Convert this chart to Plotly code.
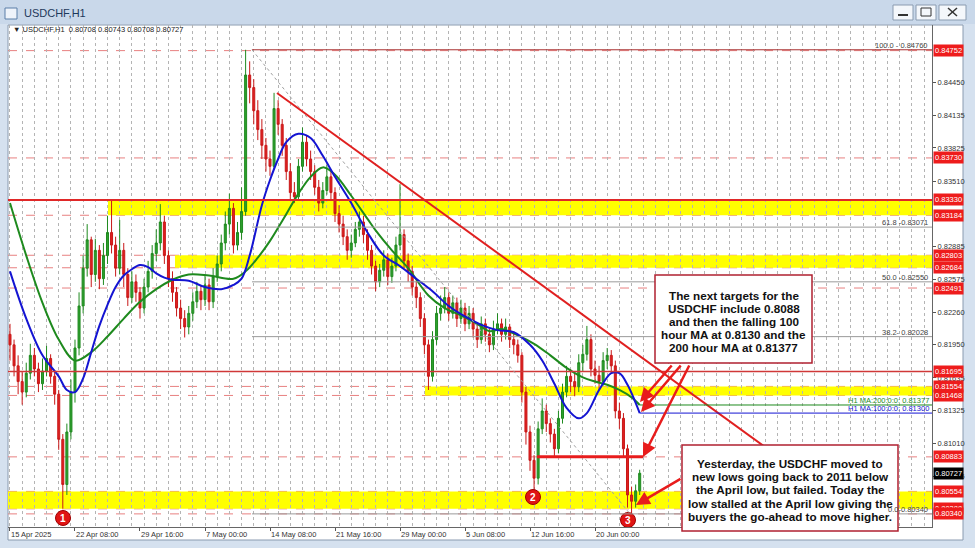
import plotly.graph_objects as go

# ---------------- data (8-hour aggregated bars) ----------------
first_open = 0.8205
close = [0.8195,0.8175,0.8160,0.8150,0.8168,0.8185,0.8172,0.8158,0.8170,0.8182,
         0.8165,0.8148,0.8105,0.8062,0.8112,0.8150,0.8192,0.8232,0.8268,0.8295,
         0.8262,0.8285,0.8258,0.8280,0.8302,0.8290,0.8268,0.8285,0.8262,0.8240,
         0.8255,0.8245,0.8230,0.8250,0.8265,0.8282,0.8292,0.8312,0.8280,0.8258,
         0.8245,0.8230,0.8220,0.8212,0.8225,0.8236,0.8246,0.8238,0.8252,0.8236,
         0.8260,0.8272,0.8292,0.8310,0.8325,0.8290,0.8302,0.8322,0.8452,0.8440,
         0.8418,0.8400,0.8385,0.8372,0.8365,0.8420,0.8405,0.8385,0.8360,0.8340,
         0.8336,0.8365,0.8388,0.8372,0.8360,0.8345,0.8330,0.8342,0.8355,0.8340,
         0.8320,0.8310,0.8298,0.8285,0.8292,0.8305,0.8312,0.8300,0.8285,0.8270,
         0.8255,0.8266,0.8276,0.8260,0.8270,0.8290,0.8300,0.8275,0.8265,0.8250,
         0.8240,0.8220,0.8195,0.8165,0.8200,0.8225,0.8230,0.8240,0.8225,0.8235,
         0.8220,0.8230,0.8215,0.8225,0.8210,0.8200,0.8215,0.8205,0.8195,0.8210,
         0.8215,0.8205,0.8212,0.8200,0.8195,0.8185,0.8150,0.8112,0.8085,0.8068,
         0.8115,0.8132,0.8120,0.8110,0.8096,0.8125,0.8150,0.8165,0.8160,0.8155,
         0.8178,0.8186,0.8200,0.8172,0.8166,0.8160,0.8180,0.8185,0.8175,0.8132,
         0.8125,0.8096,0.8052,0.8046,0.8056,0.80727]
high = [0.8215,0.8200,0.8185,0.8170,0.8178,0.8196,0.8192,0.8178,0.8182,0.8194,
        0.8186,0.8170,0.8152,0.8110,0.8120,0.8162,0.8200,0.8245,0.8280,0.8310,
        0.8298,0.8296,0.8290,0.8292,0.8318,0.8333,0.8298,0.8314,0.8292,0.8268,
        0.8265,0.8262,0.8250,0.8258,0.8275,0.8290,0.8305,0.8329,0.8318,0.8285,
        0.8265,0.8250,0.8238,0.8228,0.8232,0.8245,0.8255,0.8252,0.8262,0.8258,
        0.8268,0.8280,0.8300,0.8322,0.8339,0.8330,0.8312,0.8345,0.8476,0.8465,
        0.8448,0.8428,0.8410,0.8392,0.8380,0.8435,0.8428,0.8410,0.8392,0.8368,
        0.8350,0.8372,0.8402,0.8395,0.8380,0.8366,0.8352,0.8350,0.8366,0.8360,
        0.8345,0.8328,0.8318,0.8305,0.8300,0.8312,0.8322,0.8318,0.8305,0.8290,
        0.8275,0.8272,0.8285,0.8282,0.8278,0.8298,0.8348,0.8305,0.8282,0.8270,
        0.8256,0.8245,0.8225,0.8200,0.8208,0.8232,0.8242,0.8250,0.8245,0.8242,
        0.8240,0.8238,0.8235,0.8232,0.8230,0.8215,0.8222,0.8220,0.8210,0.8218,
        0.8225,0.8220,0.8220,0.8215,0.8208,0.8200,0.8188,0.8155,0.8118,0.8090,
        0.8122,0.8144,0.8138,0.8125,0.8115,0.8132,0.8158,0.8175,0.8172,0.8168,
        0.8186,0.8195,0.8213,0.8205,0.8180,0.8175,0.8188,0.8192,0.8190,0.8180,
        0.8140,0.8130,0.8100,0.8060,0.8062,0.80760]
low = [0.8180,0.8165,0.8148,0.8138,0.8145,0.8162,0.8165,0.8150,0.8152,0.8165,
       0.8158,0.8138,0.8095,0.8039,0.8052,0.8105,0.8140,0.8185,0.8225,0.8260,
       0.8250,0.8255,0.8248,0.8252,0.8272,0.8282,0.8260,0.8262,0.8250,0.8232,
       0.8235,0.8236,0.8220,0.8225,0.8245,0.8258,0.8275,0.8285,0.8272,0.8250,
       0.8236,0.8222,0.8210,0.8202,0.8205,0.8218,0.8230,0.8228,0.8232,0.8228,
       0.8230,0.8255,0.8265,0.8285,0.8300,0.8282,0.8285,0.8295,0.8318,0.8425,
       0.8405,0.8390,0.8372,0.8360,0.8356,0.8362,0.8395,0.8375,0.8352,0.8332,
       0.8330,0.8332,0.8360,0.8365,0.8352,0.8338,0.8322,0.8325,0.8338,0.8332,
       0.8312,0.8302,0.8290,0.8276,0.8278,0.8288,0.8298,0.8292,0.8276,0.8262,
       0.8246,0.8250,0.8260,0.8252,0.8254,0.8265,0.8285,0.8268,0.8255,0.8242,
       0.8230,0.8212,0.8186,0.8152,0.8160,0.8195,0.8218,0.8225,0.8218,0.8220,
       0.8212,0.8215,0.8208,0.8210,0.8202,0.8192,0.8196,0.8198,0.8188,0.8190,
       0.8205,0.8198,0.8200,0.8192,0.8186,0.8178,0.8140,0.8100,0.8075,0.8056,
       0.8062,0.8110,0.8112,0.8102,0.8089,0.8092,0.8120,0.8145,0.8150,0.8146,
       0.8150,0.8170,0.8180,0.8165,0.8158,0.8152,0.8156,0.8172,0.8168,0.8125,
       0.8115,0.8088,0.8040,0.8034,0.8040,0.8052]

ma100_idx = [0,4,8,12,14,16,18,20,22,24,26,28,30,32,34,36,38,40,44,48,52,55,57,59,62,64,
             66,68,71,74,77,80,84,88,92,96,100,104,108,112,116,120,124,128,131,134,137,
             140,142,145,148,150,152,155]
ma100_val = [0.8265,0.8220,0.8185,0.8165,0.8152,0.8150,0.8163,0.8188,0.8213,0.8233,
             0.8250,0.8261,0.8267,0.8271,0.8269,0.8263,0.8259,0.8257,0.8256,0.8250,
             0.8248,0.8252,0.8258,0.8280,0.8328,0.8352,0.8372,0.8388,0.8396,0.8392,
             0.8375,0.8355,0.8330,0.8302,0.8280,0.8270,0.8258,0.8246,0.8232,0.8222,
             0.8214,0.8209,0.8207,0.8195,0.8180,0.8158,0.8135,0.8125,0.8130,0.8152,
             0.8168,0.8168,0.8157,0.8130]
ma200_idx = [0,4,8,12,16,20,24,28,32,36,40,44,49,55,58,61,64,67,71,74,77,80,84,88,90,94,
             98,103,107,111,115,118,121,125,129,133,137,141,144,147,150,153,155]
ma200_val = [0.8330,0.8280,0.8235,0.8200,0.8180,0.8188,0.8203,0.8220,0.8236,0.8248,
             0.8257,0.8262,0.8261,0.8258,0.8265,0.8278,0.8294,0.8313,0.8339,0.8355,
             0.8364,0.8357,0.8337,0.8315,0.8304,0.8285,0.8268,0.8242,0.8230,0.8223,
             0.8215,0.8208,0.8210,0.8204,0.8196,0.8185,0.8173,0.8164,0.8160,0.8157,
             0.8152,0.8145,0.81377]

date_tick_idx = [0,16,32,48,64,80,96,112,128,144]
date_tick_text = ["15 Apr 2025","22 Apr 08:00","29 Apr 16:00","7 May 00:00","14 May 08:00",
                  "21 May 16:00","29 May 00:00","5 Jun 08:00","12 Jun 16:00","20 Jun 00:00"]
price_ticks = [0.84450,0.84135,0.83825,0.83510,0.82885,0.82575,0.82260,0.81950,
               0.81635,0.81325,0.81010,0.80695]
red_levels = [0.84752,0.83730,0.83330,0.83184,0.82803,0.82684,0.82491,0.81695,0.81554,
              0.81468,0.80883,0.80554,0.80388,0.80340]
dashed_levels = [0.84752,0.83730,0.83184,0.82803,0.82684,0.82491,0.81554,0.81468,
                 0.80883,0.80554,0.80388,0.80340]
last_price = 0.80727
yellow_zones = [(0.83184,0.83330),(0.82684,0.82803),(0.81468,0.81554),(0.80388,0.80554)]
fib_levels = [("100.0 - 0.84760",0.84760),("61.8 -0.83071",0.83071),("50.0 -0.82550",0.82550),
              ("38.2- 0.82028",0.82028),("0.0-0.80340",0.80340)]
ma100_last = 0.81300
ma200_last = 0.81377

box1_lines = ["The next targets for the","USDCHF include 0.8088","and then the falling 100",
              "hour MA at 0.8130 and the","200 hour MA at 0.81377"]
box2_lines = ["Yesterday, the USDCHF moved to","new lows going back to 2011 below",
              "the April low, but failed. Today the","low stalled at the April low giving the",
              "buyers the go-ahead to move higher."]

# ---------------- geometry helpers ----------------
W, H = 975, 548
L, R, T, B = 8, 932, 25, 527
X0, X1 = -0.49, 226.95
Y0, Y1 = 0.80215, 0.84996

def px(x):
    return (x - L) / (R - L)

def py(y):
    return (B - y) / (B - T)

def xi(x):
    return X0 + (x - L) / (R - L) * (X1 - X0)

def yp(y):
    return Y1 - (y - T) / (B - T) * (Y1 - Y0)

opens = [first_open] + close[:-1]
idx = list(range(len(close)))

fig = go.Figure()
fig.add_trace(go.Candlestick(
    x=idx, open=opens, high=high, low=low, close=close,
    increasing=dict(line=dict(color="#1f8a1f", width=1), fillcolor="#2ea02e"),
    decreasing=dict(line=dict(color="#c81818", width=1), fillcolor="#e02020"),
    whiskerwidth=0, showlegend=False, hoverinfo="skip"))
fig.add_trace(go.Scatter(x=ma200_idx, y=ma200_val, mode="lines",
                         line=dict(color="#1e8a1e", width=2, shape="spline"),
                         showlegend=False, hoverinfo="skip"))
fig.add_trace(go.Scatter(x=ma100_idx, y=ma100_val, mode="lines",
                         line=dict(color="#1414d2", width=2, shape="spline"),
                         showlegend=False, hoverinfo="skip"))

shapes = []
# window / white chart frame
shapes.append(dict(type="rect", xref="paper", yref="paper", x0=px(0), x1=px(975), y0=py(548), y1=py(0),
                   fillcolor="#d5e1ef", line=dict(width=0), layer="below"))
shapes.append(dict(type="rect", xref="paper", yref="paper", x0=px(0), x1=px(975), y0=py(24), y1=py(0),
                   fillcolor="#c9d8ea", line=dict(width=0), layer="below"))
shapes.append(dict(type="rect", xref="paper", yref="paper", x0=px(8), x1=px(963), y0=py(540), y1=py(25),
                   fillcolor="white", line=dict(color="#8a9bb0", width=1), layer="below"))
# title bar icon and buttons
shapes.append(dict(type="rect", xref="paper", yref="paper", x0=px(5), x1=px(17), y0=py(19), y1=py(8),
                   fillcolor="#eef3fa", line=dict(color="#5a7ea8", width=1)))
for bx0, bx1 in [(893, 913), (916, 936), (939, 966)]:
    shapes.append(dict(type="rect", xref="paper", yref="paper", x0=px(bx0), x1=px(bx1), y0=py(20), y1=py(5),
                       fillcolor="#f4f7fb", line=dict(color="#8a9bb0", width=1)))
shapes.append(dict(type="line", xref="paper", yref="paper", x0=px(898), x1=px(908), y0=py(15), y1=py(15),
                   line=dict(color="#333", width=2)))
shapes.append(dict(type="rect", xref="paper", yref="paper", x0=px(921), x1=px(931), y0=py(16), y1=py(8),
                   line=dict(color="#333", width=1)))
shapes.append(dict(type="line", xref="paper", yref="paper", x0=px(948), x1=px(957), y0=py(16), y1=py(8),
                   line=dict(color="#333", width=1.5)))
shapes.append(dict(type="line", xref="paper", yref="paper", x0=px(948), x1=px(957), y0=py(8), y1=py(16),
                   line=dict(color="#333", width=1.5)))

# yellow zones
zone_start = [xi(108), xi(175), xi(425), X0]
for (lo_, hi_), xs in zip(yellow_zones, zone_start):
    shapes.append(dict(type="rect", xref="x", yref="y", x0=xs, x1=X1, y0=lo_, y1=hi_,
                       fillcolor="#ffff00", line=dict(width=0), layer="below"))
# dashed price levels
for lv in dashed_levels:
    shapes.append(dict(type="line", xref="paper", yref="y", x0=0, x1=1, y0=lv, y1=lv,
                       line=dict(color="#e88080", width=1, dash="dash"), layer="below"))
# solid red levels
shapes.append(dict(type="line", xref="paper", yref="y", x0=0, x1=1, y0=0.83330, y1=0.83330,
                   line=dict(color="#e02828", width=2)))
shapes.append(dict(type="line", xref="paper", yref="y", x0=0, x1=1, y0=0.81695, y1=0.81695,
                   line=dict(color="#d03838", width=1.5)))
# fibonacci
fx0 = xi(252)
for name, lv in fib_levels:
    col = "#a83030" if lv > 0.847 else "#9a9a9a"
    shapes.append(dict(type="line", xref="x", yref="y", x0=fx0, x1=X1, y0=lv, y1=lv,
                       line=dict(color=col, width=1)))
shapes.append(dict(type="line", xref="x", yref="y", x0=fx0, x1=xi(630), y0=0.84760, y1=0.80340,
                   line=dict(color="#a0a0a0", width=1, dash="dot")))
# trend line
shapes.append(dict(type="line", xref="x", yref="y", x0=xi(277), x1=xi(765), y0=yp(93), y1=yp(447),
                   line=dict(color="#e02020", width=2)))
# 0.8088 level segment
shapes.append(dict(type="line", xref="x", yref="y", x0=xi(537), x1=xi(643), y0=0.80883, y1=0.80883,
                   line=dict(color="#e81c1c", width=3)))
# MA price lines
shapes.append(dict(type="line", xref="x", yref="y", x0=len(close) - 1, x1=X1, y0=ma200_last, y1=ma200_last,
                   line=dict(color="#1e8a1e", width=1)))
shapes.append(dict(type="line", xref="x", yref="y", x0=len(close) - 1, x1=X1, y0=ma100_last, y1=ma100_last,
                   line=dict(color="#1414d2", width=1)))
# text boxes
shapes.append(dict(type="rect", xref="paper", yref="paper", x0=px(655), x1=px(812), y0=py(363), y1=py(275),
                   fillcolor="white", line=dict(color="#b02030", width=1.5)))
shapes.append(dict(type="rect", xref="paper", yref="paper", x0=px(682), x1=px(898), y0=py(531), y1=py(445),
                   fillcolor="white", line=dict(color="#b02030", width=1.5)))

ann = []
FONT = "Liberation Sans, Arial, sans-serif"
ann.append(dict(xref="paper", yref="paper", x=px(22), y=py(13), text="USDCHF,H1", showarrow=False,
                xanchor="left", yanchor="middle", font=dict(family=FONT, size=11, color="#1e395b")))
ann.append(dict(xref="paper", yref="paper", x=px(11), y=py(30),
                text="\u25bc USDCHF,H1  0.80708 0.80743 0.80708 0.80727", showarrow=False,
                xanchor="left", yanchor="middle", font=dict(family=FONT, size=7.5, color="#222")))
for lv in red_levels:
    ann.append(dict(xref="paper", yref="y", x=1, y=lv, xshift=1, text=f"{lv:.5f}", showarrow=False,
                    xanchor="left", yanchor="middle", bgcolor="#ee1c1c", borderpad=1,
                    font=dict(family=FONT, size=7.5, color="white")))
ann.append(dict(xref="paper", yref="y", x=1, y=last_price, xshift=1, text=f"{last_price:.5f}", showarrow=False,
                xanchor="left", yanchor="middle", bgcolor="#000000", borderpad=1,
                font=dict(family=FONT, size=7.5, color="white")))
for name, lv in fib_levels:
    ann.append(dict(xref="paper", yref="y", x=1, y=lv, xshift=-2, text=name, showarrow=False,
                    xanchor="right", yanchor="bottom", yshift=-2,
                    font=dict(family=FONT, size=7.5, color="#444")))
ann.append(dict(xref="paper", yref="y", x=1, y=ma200_last, xshift=-1, yshift=-2,
                text=f"H1 MA:200:0:0: {ma200_last:.5f}", showarrow=False, xanchor="right", yanchor="bottom",
                font=dict(family=FONT, size=7.5, color="#1e8a1e")))
ann.append(dict(xref="paper", yref="y", x=1, y=ma100_last, xshift=-1, yshift=-2,
                text=f"H1 MA:100:0:0: {ma100_last:.5f}", showarrow=False, xanchor="right", yanchor="bottom",
                font=dict(family=FONT, size=7.5, color="#1414d2")))
for k, line in enumerate(box1_lines):
    ann.append(dict(xref="paper", yref="paper", x=px(733.5), y=py(295 + 13.2 * k), text=f"<b>{line}</b>",
                    showarrow=False, xanchor="center", yanchor="middle",
                    font=dict(family=FONT, size=11.7, color="#111")))
for k, line in enumerate(box2_lines):
    ann.append(dict(xref="paper", yref="paper", x=px(790), y=py(463.5 + 13.2 * k), text=f"<b>{line}</b>",
                    showarrow=False, xanchor="center", yanchor="middle",
                    font=dict(family=FONT, size=11.7, color="#111")))
# arrows
for (hx, hy), (tx, ty) in [((640, 402), (673, 364)), ((641, 412), (682, 364)),
                           ((643, 457), (690, 364)), ((636, 505), (682, 478))]:
    ann.append(dict(xref="x", yref="y", x=xi(hx), y=yp(hy), axref="x", ayref="y", ax=xi(tx), ay=yp(ty),
                    text="", showarrow=True, arrowhead=2, arrowsize=1.1, arrowwidth=2.5,
                    arrowcolor="#e81c1c"))
# numbered markers
for lab, (mx, my) in [("1", (63, 518)), ("2", (533, 497)), ("3", (628, 520))]:
    ann.append(dict(xref="x", yref="y", x=xi(mx), y=yp(my), text=f"<b>{lab}</b>", showarrow=False,
                    font=dict(family=FONT, size=10, color="white")))
fig.add_trace(go.Scatter(x=[xi(63), xi(533), xi(628)], y=[yp(518), yp(497), yp(520)], mode="markers",
                         marker=dict(size=15, color="#e01414", line=dict(color="#a00000", width=1)),
                         showlegend=False, hoverinfo="skip", cliponaxis=False))

fig.update_layout(
    width=W, height=H, margin=dict(l=L, r=W - R, t=T, b=H - B, autoexpand=False),
    paper_bgcolor="#d5e1ef", plot_bgcolor="white",
    shapes=shapes, annotations=ann, showlegend=False,
    xaxis=dict(range=[X0, X1], rangeslider=dict(visible=False), tickvals=date_tick_idx,
               ticktext=date_tick_text, ticklabelposition="outside right", ticks="outside", ticklen=3,
               tickcolor="#555", showgrid=False, zeroline=False, showline=True, linecolor="#666",
               automargin=False,
               tickfont=dict(family=FONT, size=7.5, color="#333"),
               minor=dict(dtick=3, tick0=0, showgrid=True, gridcolor="#b4b4b4", griddash="dot",
                          gridwidth=1)),
    yaxis=dict(range=[Y0, Y1], side="right", tickvals=price_ticks,
               ticktext=[f"{v:.5f}" for v in price_ticks], ticks="outside", ticklen=3, tickcolor="#555",
               showgrid=False, zeroline=False, showline=True, linecolor="#666", automargin=False,
               tickfont=dict(family=FONT, size=7.5, color="#333")),
)
fig.write_html("out.html", config={"displayModeBar": False},
               post_script="document.body.style.margin='0';document.body.style.overflow='hidden';")
